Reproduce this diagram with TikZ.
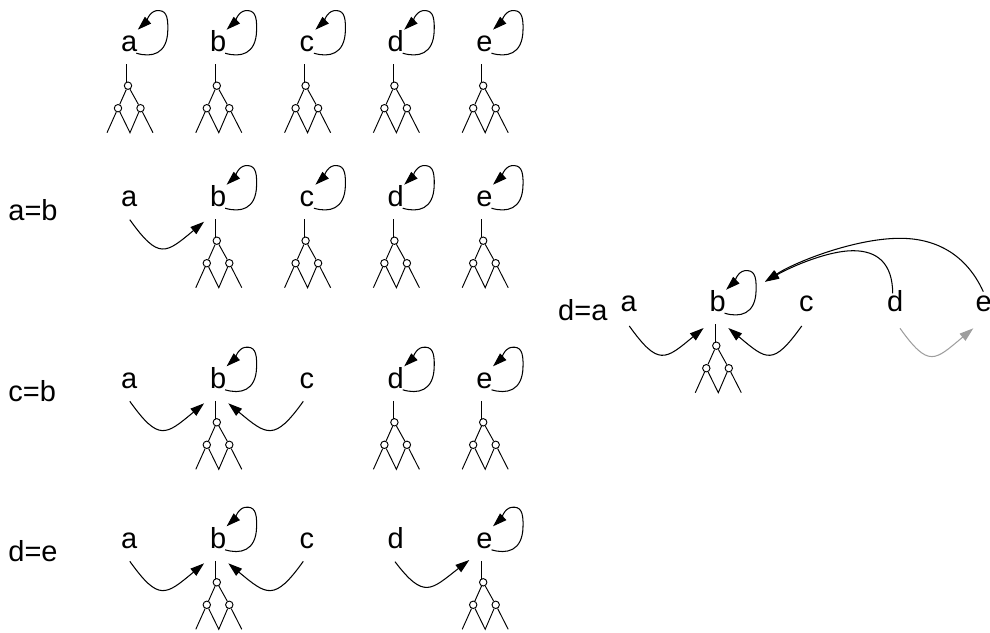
\documentclass[tikz,border=0pt]{standalone}
\usepackage{fontspec}
\setmainfont{Liberation Sans}
\usetikzlibrary{arrows.meta}
\begin{document}
\begin{tikzpicture}[x=1pt,y=-1pt,
  lbl/.style={anchor=base,inner sep=0pt,font=\fontsize{29}{31}\selectfont},
  rowlbl/.style={anchor=base west,inner sep=0pt,font=\fontsize{29}{31}\selectfont},
  conn/.style={line width=1.05pt,-{Triangle[length=14pt,width=9pt]}},
  grayconn/.style={conn,color=black!38},
  knot/.style={circle,draw,line width=0.95pt,minimum size=7.4pt,inner sep=0pt},
  treeline/.style={line width=0.95pt},
  tree/.pic={
    \draw[treeline] (-2.6,12.5) -- (-2.6,30.3);
    \node[knot] (-t) at (-1.3,34) {};
    \node[knot] (-l) at (-11.3,56.5) {};
    \node[knot] (-r) at (11.2,56.5) {};
    \draw[treeline] (-t) -- (-l) -- (-22.3,81);
    \draw[treeline] (-t) -- (-r) -- (23.7,81);
    \draw[treeline] (-l) -- (0.7,81) -- (-r);
  },
  selfloop/.pic={
    \draw[conn] (7,1.5) .. controls (22,6) and (38,3) .. (38.5,-21.5)
      .. controls (39,-37) and (36,-42) .. (27,-41)
      .. controls (20,-40) and (16,-29) .. (8.5,-22);
  }
]
\useasboundingbox (0,0) rectangle (990,632);

% ---------- row 1 ----------
\node[lbl] (a1) at (129.3,51.7) {a};
\node[lbl] (b1) at (218.1,51.7) {b};
\node[lbl] (c1) at (306.9,51.7) {c};
\node[lbl] (d1) at (395.7,51.7) {d};
\node[lbl] (e1) at (484.5,51.7) {e};
\foreach \n in {a1,b1,c1,d1,e1}{
  \pic at (\n.base) {selfloop};
  \pic (\n tree) at (\n.base) {tree};
}

% ---------- row 2 : a=b ----------
\node[rowlbl] (l2) at (8.2,220) {a=b};
\node[lbl] (a2) at (129.3,206.7) {a};
\node[lbl] (b2) at (218.1,206.7) {b};
\node[lbl] (c2) at (306.9,206.7) {c};
\node[lbl] (d2) at (395.7,206.7) {d};
\node[lbl] (e2) at (484.5,206.7) {e};
\foreach \n in {b2,c2,d2,e2}{
  \pic at (\n.base) {selfloop};
  \pic (\n tree) at (\n.base) {tree};
}
\draw[conn] ([shift={(0.5,13)}]a2.base) .. controls (158.8,260.2) and (165.6,253.7) .. ([shift={(-14,15)}]b2.base);

% ---------- row 3 : c=b ----------
\node[rowlbl] (l3) at (8.2,401.7) {c=b};
\node[lbl] (a3) at (129.3,388.3) {a};
\node[lbl] (b3) at (218.1,388.3) {b};
\node[lbl] (c3) at (306.9,388.3) {c};
\node[lbl] (d3) at (395.7,388.3) {d};
\node[lbl] (e3) at (484.5,388.3) {e};
\foreach \n in {b3,d3,e3}{
  \pic at (\n.base) {selfloop};
  \pic (\n tree) at (\n.base) {tree};
}
\draw[conn] ([shift={(0.5,13)}]a3.base) .. controls (158.8,441.8) and (165.6,435.3) .. ([shift={(-14,15)}]b3.base);
\draw[conn] ([shift={(-3.6,13)}]c3.base) .. controls (274.3,441.8) and (266.8,435.3) .. ([shift={(10.2,15)}]b3.base);

% ---------- row 4 : d=e ----------
\node[rowlbl] (l4) at (8.2,561.7) {d=e};
\node[lbl] (a4) at (129.3,548.3) {a};
\node[lbl] (b4) at (218.1,548.3) {b};
\node[lbl] (c4) at (306.9,548.3) {c};
\node[lbl] (d4) at (395.7,548.3) {d};
\node[lbl] (e4) at (484.5,548.3) {e};
\foreach \n in {b4,e4}{
  \pic at (\n.base) {selfloop};
  \pic (\n tree) at (\n.base) {tree};
}
\draw[conn] ([shift={(0.5,13)}]a4.base) .. controls (158.8,601.8) and (165.6,595.3) .. ([shift={(-14,15)}]b4.base);
\draw[conn] ([shift={(-3.6,13)}]c4.base) .. controls (274.3,601.8) and (266.8,595.3) .. ([shift={(10.2,15)}]b4.base);
\draw[conn] ([shift={(-0.7,13.4)}]d4.base) .. controls (424,599.7) and (430.8,590) .. ([shift={(-15.2,11.7)}]e4.base);

% ---------- right panel : d=a ----------
\node[rowlbl] (l5) at (558,320) {d=a};
\node[lbl] (a5) at (628.8,311.7) {a};
\node[lbl] (b5) at (717.6,311.7) {b};
\node[lbl] (c5) at (806.4,311.7) {c};
\node[lbl] (d5) at (895.2,311.7) {d};
\node[lbl] (e5) at (983.6,311.7) {e};
\pic at (b5.base) {selfloop};
\pic (b5tree) at (b5.base) {tree};
\draw[conn] ([shift={(0.5,14.3)}]a5.base) .. controls (658.3,366.5) and (665.1,360) .. ([shift={(-14,16.3)}]b5.base);
\draw[conn] ([shift={(-4.7,14.3)}]c5.base) .. controls (772.7,366.5) and (766.8,360) .. ([shift={(10.7,16.3)}]b5.base);
\draw[grayconn] ([shift={(4.8,16.6)}]d5.base) .. controls (929,368.8) and (934.8,360.3) .. ([shift={(-10.3,16.6)}]e5.base);
\coordinate (dtop) at (853,250.7);
\coordinate (etop) at (900,238.3);
\draw[conn] ([shift={(-2.5,-18.4)}]d5.base) .. controls (892.5,264) and (878,250.7) .. (dtop)
  .. controls (828,250.7) and (791,266.7) .. ([shift={(47.4,-30)}]b5.base);
\draw[conn] ([shift={(-0.3,-20)}]e5.base) .. controls (968,258) and (940,238.3) .. (etop)
  .. controls (855,238.3) and (795,262) .. ([shift={(47.4,-30)}]b5.base);
\end{tikzpicture}
\end{document}
